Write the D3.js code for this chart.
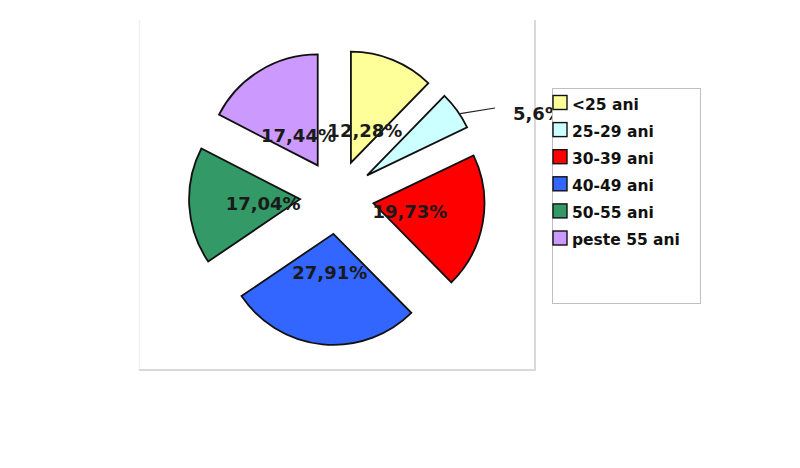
<!DOCTYPE html>
<html><head><meta charset="utf-8">
<script src="https://cdn.jsdelivr.net/npm/d3@7"></script>
<style>body{margin:0;background:#fff}svg{display:block}</style>
</head><body>
<svg id="c" width="800" height="468"></svg>
<script>
const categories = ["<25 ani","25-29 ani","30-39 ani","40-49 ani","50-55 ani","peste 55 ani"];
const values = [12.28, 5.6, 19.73, 27.91, 17.04, 17.44];
const labels = ["12,28%","5,6%","19,73%","27,91%","17,04%","17,44%"];
const colors = ["#ffff99","#ccffff","#ff0000","#3366ff","#339966","#cc99ff"];

const svg = d3.select("#c");
const FONT = "'DejaVu Sans', sans-serif";

// plot area frame
svg.append("line").attr("x1",139.5).attr("y1",20).attr("x2",139.5).attr("y2",370).attr("stroke","#f0f0f0").attr("stroke-width",1.5);
svg.append("line").attr("x1",535).attr("y1",20).attr("x2",535).attr("y2",371).attr("stroke","#d9d9d9").attr("stroke-width",2);
svg.append("line").attr("x1",139).attr("y1",370).attr("x2",536).attr("y2",370).attr("stroke","#d9d9d9").attr("stroke-width",2);

const cx = 337, cy = 197, r = 111, explode = 37, labR = 74;
const pie = d3.pie().sort(null).value(d => d);
const arcs = pie(values);
const arc = d3.arc().innerRadius(0).outerRadius(r);

const g = svg.append("g").attr("transform", `translate(${cx},${cy})`);
arcs.forEach((a, i) => {
  const mid = (a.startAngle + a.endAngle) / 2;
  const dx = Math.sin(mid) * explode, dy = -Math.cos(mid) * explode;
  g.append("path")
    .attr("d", arc(a))
    .attr("transform", `translate(${dx},${dy})`)
    .attr("fill", colors[i])
    .attr("stroke", "#111")
    .attr("stroke-width", 1.8)
    .attr("stroke-linejoin", "miter");
});

const LFS = 18;
arcs.forEach((a, i) => {
  const mid = (a.startAngle + a.endAngle) / 2;
  if (i === 1) {
    const ox = Math.sin(mid) * (explode + r) + 3, oy = -Math.cos(mid) * (explode + r) + 3;
    g.append("line").attr("x1", ox).attr("y1", oy).attr("x2", 495 - cx).attr("y2", 108 - cy)
      .attr("stroke", "#222").attr("stroke-width", 1.2);
    g.append("text").attr("x", 513 - cx).attr("y", 113 - cy + LFS * 0.365)
      .attr("font-family", FONT).attr("font-weight", "bold").attr("font-size", LFS)
      .attr("fill", "#1a1a1a").text(labels[i]);
  } else {
    g.append("text")
      .attr("x", Math.sin(mid) * labR).attr("y", -Math.cos(mid) * labR + 2 + LFS * 0.365)
      .attr("text-anchor", "middle")
      .attr("font-family", FONT).attr("font-weight", "bold").attr("font-size", LFS)
      .attr("fill", "#1a1a1a").text(labels[i]);
  }
});

// legend
svg.append("rect").attr("x", 552.5).attr("y", 88.5).attr("width", 148).attr("height", 215)
  .attr("fill", "#fff").attr("stroke", "#bfbfbf").attr("stroke-width", 1);
const lg = svg.append("g");
categories.forEach((c, i) => {
  const y = 102.5 + i * 27.1;
  lg.append("rect").attr("x", 553).attr("y", y - 7).attr("width", 14).attr("height", 14)
    .attr("fill", colors[i]).attr("stroke", "#111").attr("stroke-width", 1.4);
  lg.append("text").attr("x", 572).attr("y", y + 1.5 + 16 * 0.365)
    .attr("font-family", FONT).attr("font-weight", "bold").attr("font-size", 15.5)
    .attr("fill", "#111").text(c);
});
</script>
</body></html>
